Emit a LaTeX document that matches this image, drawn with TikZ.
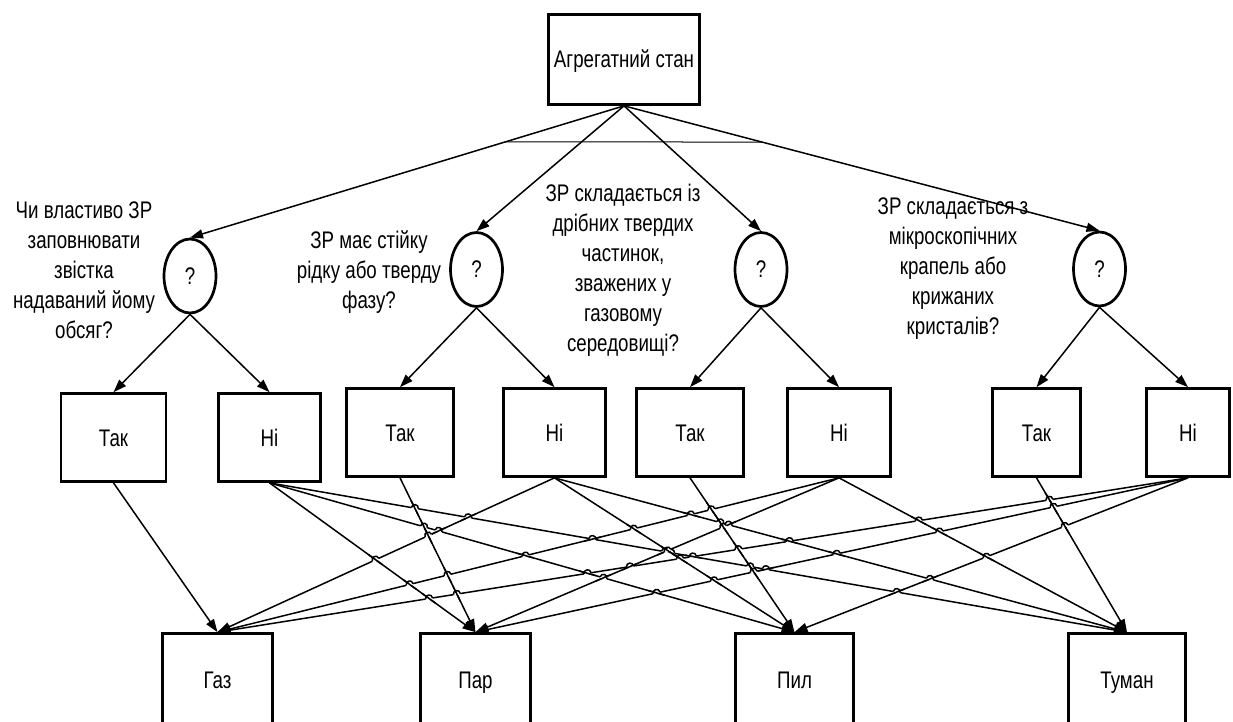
\documentclass[tikz,border=0pt]{standalone}
\usepackage{fontspec}
\setmainfont{Liberation Sans}[FakeStretch=0.78]
\usetikzlibrary{arrows.meta,shapes.geometric,intersections,calc}

% radius of a line jump
\def\hr{3.5}
% draw a line jump at (X) where wires #1 and #2 cross; the flatter wire jumps
\newcommand\jumpcross[2]{%
  \pgfmathanglebetweenpoints{\pgfpointanchor{a#1}{center}}{\pgfpointanchor{b#1}{center}}%
  \pgfmathsetmacro\angi{mod(\pgfmathresult+450,180)-90}%
  \pgfmathanglebetweenpoints{\pgfpointanchor{a#2}{center}}{\pgfpointanchor{b#2}{center}}%
  \pgfmathsetmacro\angj{mod(\pgfmathresult+450,180)-90}%
  \pgfmathtruncatemacro\firsthops{abs(\angi)<=abs(\angj)}%
  \ifnum\firsthops=1 \let\ha\angi\let\ca\angj\else\let\ha\angj\let\ca\angi\fi
  \pgfmathsetmacro\ux{\hr*cos(\ha)}%
  \pgfmathsetmacro\uy{\hr*sin(\ha)}%
  \pgfmathsetmacro\nx{-1.333*\hr*sin(\ha)}%
  \pgfmathsetmacro\ny{1.333*\hr*cos(\ha)}%
  \pgfmathsetmacro\vx{(\hr+5)*cos(\ca)}%
  \pgfmathsetmacro\vy{(\hr+5)*sin(\ca)}%
  \draw[white,line width=2.4pt] ($(X)-(\ux pt,\uy pt)$) -- ($(X)+(\ux pt,\uy pt)$);
  \draw[wire] ($(X)-(\vx pt,\vy pt)$) -- ($(X)+(\vx pt,\vy pt)$);
  \draw[wire] ($(X)-(\ux pt,\uy pt)$)
    .. controls ($(X)-(\ux pt,\uy pt)+(\nx pt,\ny pt)$) and ($(X)+(\ux pt,\uy pt)+(\nx pt,\ny pt)$)
    .. ($(X)+(\ux pt,\uy pt)$);
}

% wire number / source box number / target box number
\def\linelist{1/1/1, 2/2/2, 3/2/3, 4/2/4, 5/3/2, 6/4/1, 7/4/3, 8/4/4,
  9/5/3, 10/6/1, 11/6/2, 12/6/4, 13/7/4, 14/8/1, 15/8/2, 16/8/3}

\tikzset{
  box/.style={draw, line width=2.7pt, inner sep=0pt, line join=miter,
    text height=17pt, text depth=0pt},
  qnode/.style={draw, ellipse, line width=2.7pt, inner sep=0pt,
    minimum width=52pt, minimum height=74pt},
  note/.style={align=center, inner sep=0pt},
  wire/.style={line width=1.5pt},
  conn/.style={wire, -{Triangle[length=13pt,width=9pt]}},
  gate/.style={line width=1pt}
}

\begin{document}
\begin{tikzpicture}[x=1pt, y=-1pt, font=\fontsize{24}{30}\selectfont]
\useasboundingbox (0,0) rectangle (1233,722);
\clip (0,0) rectangle (1233,722);

% root
\node[box, minimum width=151pt, minimum height=90pt] (top) at (624,59.5) {Агрегатний стан};

% questions
\node[note] (txt1) at (84,270) {Чи властиво ЗР\\заповнювати\\звістка\\надаваний йому\\обсяг?};
\node[note] (txt2) at (369,272) {ЗР має стійку\\рідку або тверду\\фазу?};
\node[note] (txt3) at (623,270.5) {ЗР складається із\\дрібних твердих\\частинок,\\зважених у\\газовому\\середовищі?};
\node[note] (txt4) at (953,269) {ЗР складається з\\мікроскопічних\\крапель або\\крижаних\\кристалів?};

\node[qnode] (c1) at (190,276) {?};
\node[qnode] (c2) at (476.5,269.5) {?};
\node[qnode] (c3) at (761,269.5) {?};
\node[qnode] (c4) at (1099.5,269) {?};

% answers
\node[box, minimum width=105pt, minimum height=88pt] (t1) at (113.5,437.5) {Так};
\node[box, minimum width=102pt, minimum height=88pt] (n1) at (269.5,437.5) {Ні};
\node[box, minimum width=107pt, minimum height=88pt] (t2) at (400,432.5) {Так};
\node[box, minimum width=102pt, minimum height=88pt] (n2) at (554.5,432.5) {Ні};
\node[box, minimum width=107pt, minimum height=88pt] (t3) at (690,432.5) {Так};
\node[box, minimum width=103pt, minimum height=88pt] (n3) at (839,432.5) {Ні};
\node[box, minimum width=88pt, minimum height=88pt] (t4) at (1036.5,432.5) {Так};
\node[box, minimum width=83pt, minimum height=88pt] (n4) at (1188,432.5) {Ні};

% results
\node[box, minimum width=110pt, minimum height=93pt] (gaz) at (217.5,680) {Газ};
\node[box, minimum width=110pt, minimum height=93pt] (par) at (475.5,680) {Пар};
\node[box, minimum width=118pt, minimum height=93pt] (pyl) at (794.5,680) {Пил};
\node[box, minimum width=117pt, minimum height=93pt] (tum) at (1127,680) {Туман};

% root to questions
\draw[conn, name path=tla] (top.south) -- (c1.north);
\draw[conn] (top.south) -- (c2.north);
\draw[conn] (top.south) -- (c3.north);
\draw[conn, name path=tld] (top.south) -- (c4.north);
\path[name path=barline] (0,142) -- (1233,142);
\path[name intersections={of=tla and barline, by=barL}];
\path[name intersections={of=tld and barline, by=barR}];
\draw[gate] (barL) -- (barR);

% questions to answers
\foreach \c/\y/\n in {c1/t1/n1, c2/t2/n2, c3/t3/n3, c4/t4/n4} {
  \draw[conn] (\c.south) -- (\y.north);
  \draw[conn] (\c.south) -- (\n.north);
}

% answers to results
\foreach \k/\s/\e in {1/t1/gaz, 2/n1/par, 3/n1/pyl, 4/n1/tum, 5/t2/par,
    6/n2/gaz, 7/n2/pyl, 8/n2/tum, 9/t3/pyl, 10/n3/gaz, 11/n3/par,
    12/n3/tum, 13/t4/tum, 14/n4/gaz, 15/n4/par, 16/n4/pyl} {
  \coordinate (a\k) at (\s.south);
  \coordinate (b\k) at (\e.north);
  \draw[conn, name path global=L\k] (\s.south) -- (\e.north);
}

% line jumps where wires cross
\foreach \i/\si/\ei in \linelist {
  \foreach \j/\sj/\ej in \linelist {
    \ifnum\j>\i\relax
      \ifnum\si=\sj\relax\else
        \ifnum\ei=\ej\relax\else
          \edef\pairkey{of=L\i\space and L\j}%
          \path[name intersections/.expanded={\pairkey, total=\noexpand\t}] \pgfextra{\xdef\ntot{\t}};
          \ifnum\ntot>0
            \coordinate (X) at (intersection-1);
            \jumpcross{\i}{\j}
          \fi
        \fi
      \fi
    \fi
  }
}
\end{tikzpicture}
\end{document}
